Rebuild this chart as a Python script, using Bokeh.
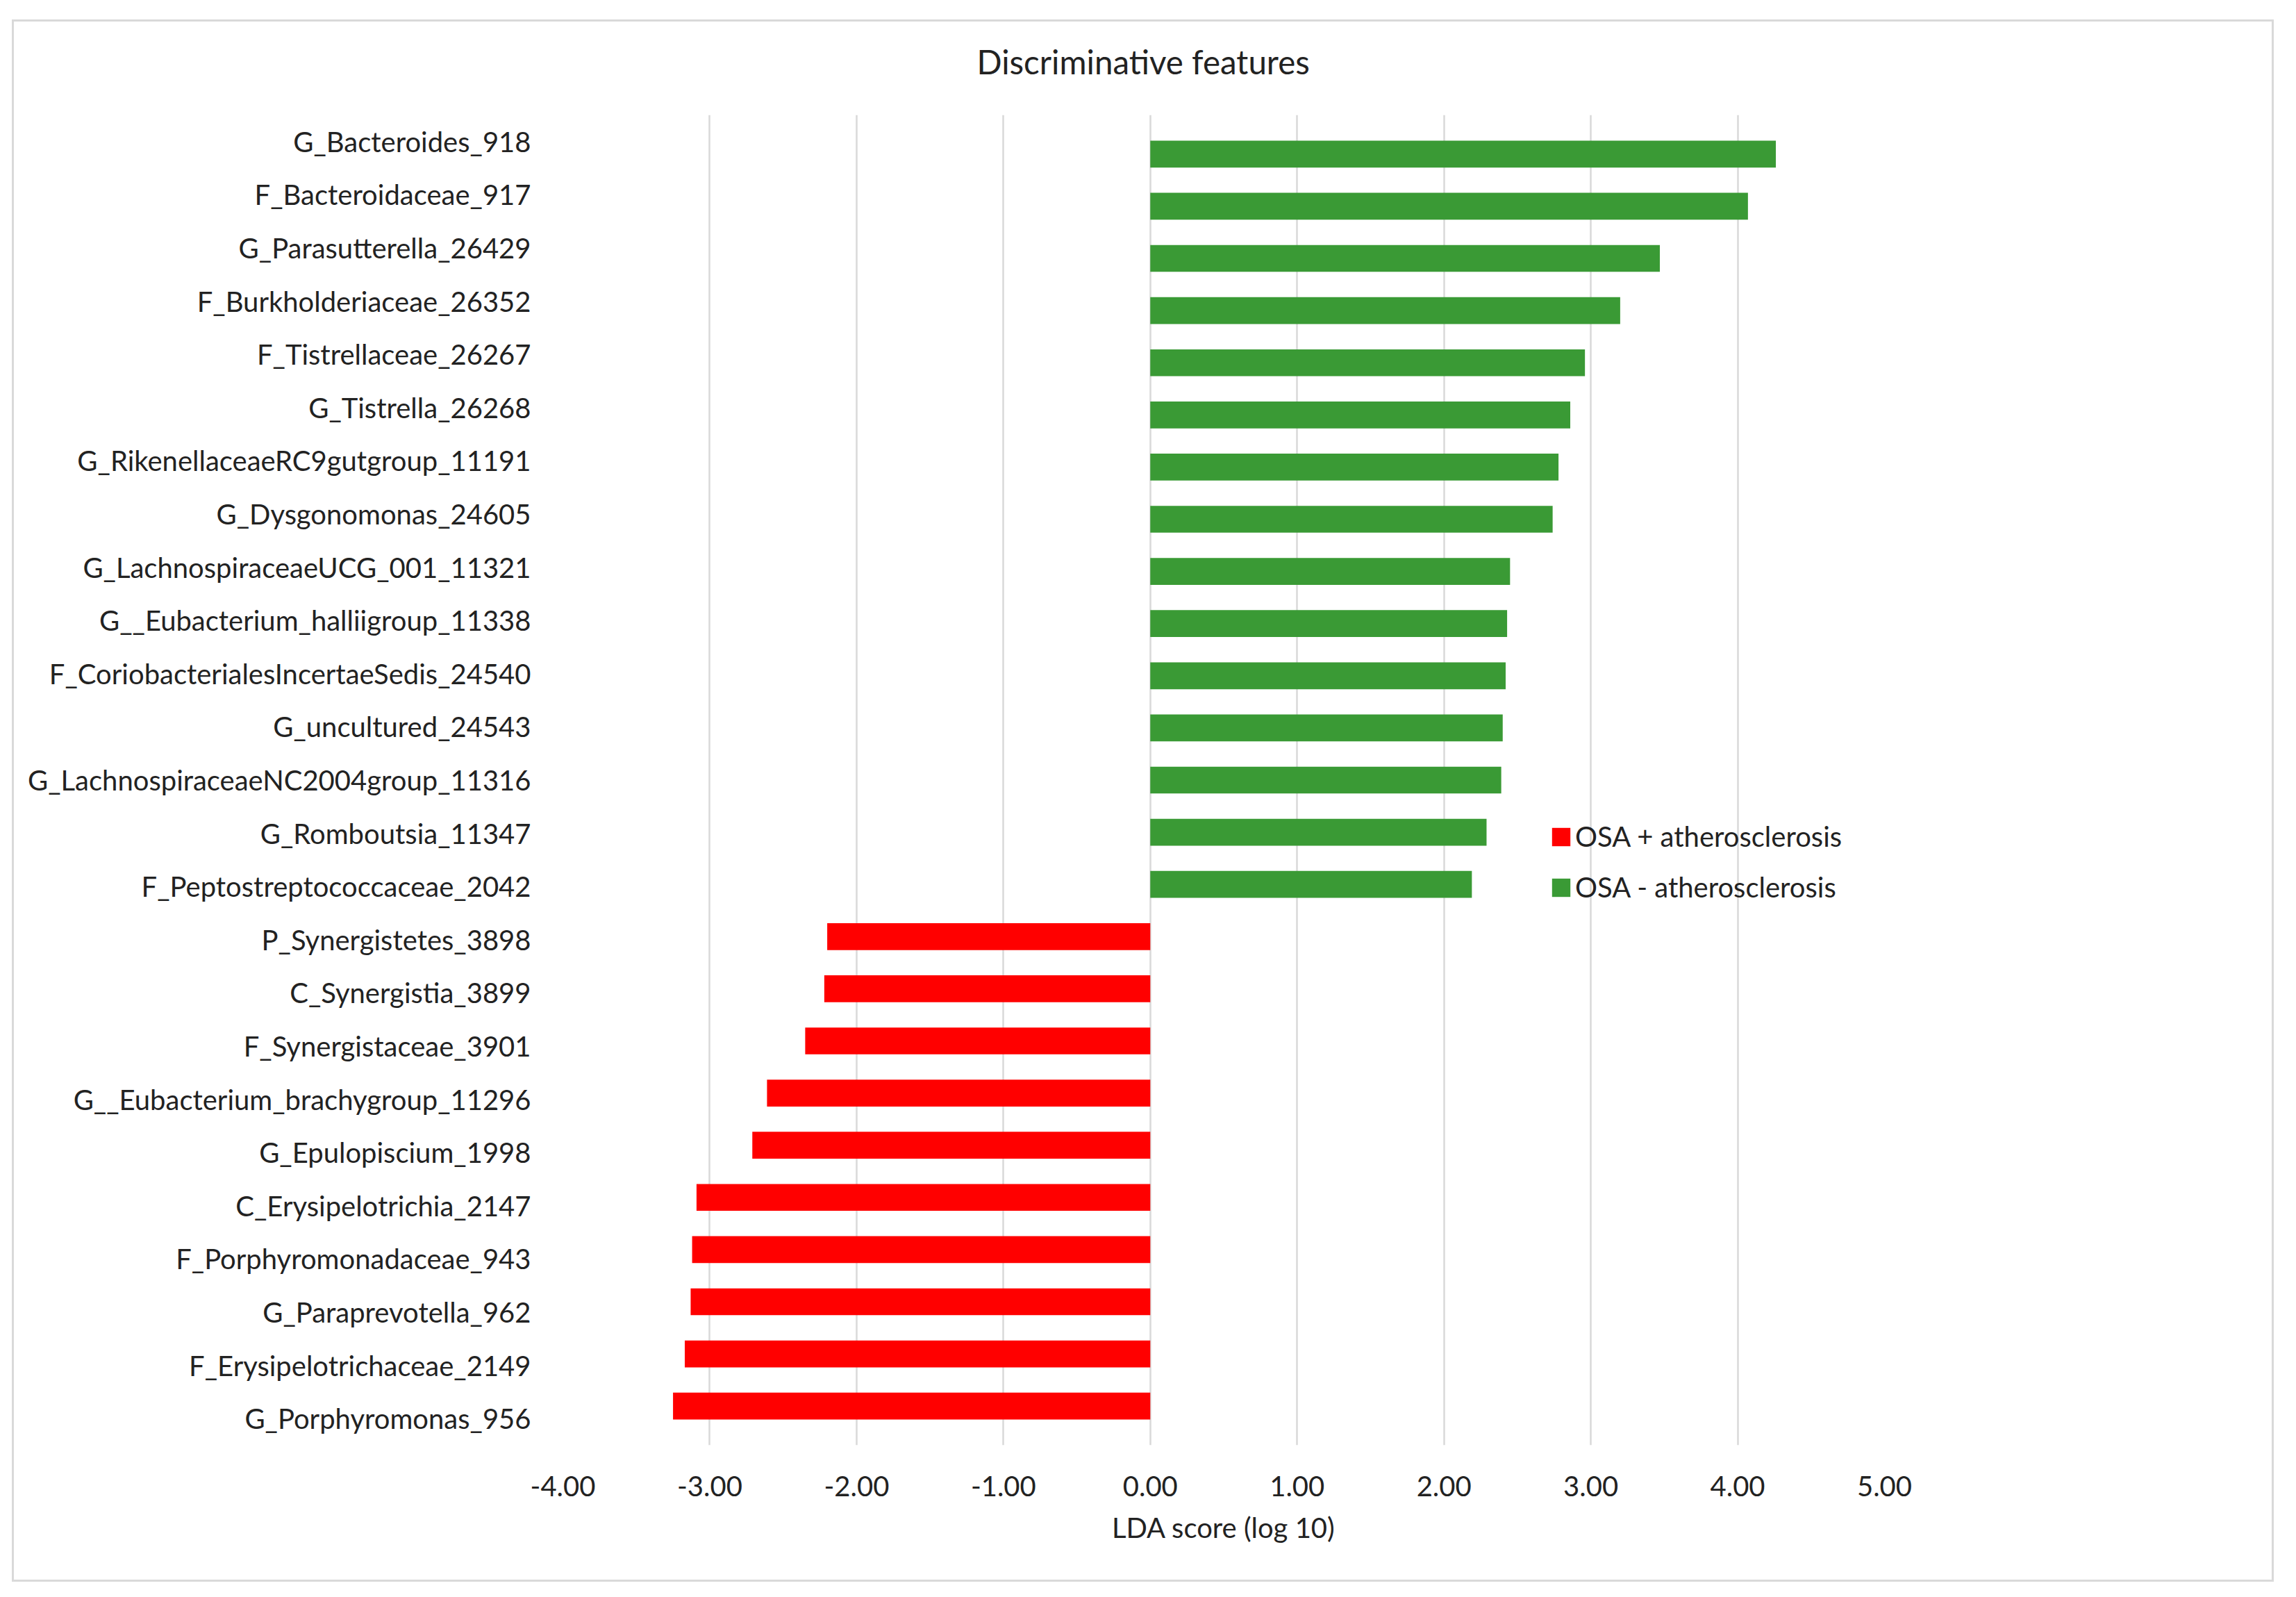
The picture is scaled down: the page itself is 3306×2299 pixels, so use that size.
from bokeh.plotting import figure
from bokeh.layouts import column
from bokeh.models import (ColumnDataSource, FactorRange, Range1d, FixedTicker,
                          NumeralTickFormatter, Legend, LegendItem, Title)
from bokeh.embed import file_html
from bokeh.resources import INLINE

# ---------------- data ----------------
features = [
    "G_Bacteroides_918",
    "F_Bacteroidaceae_917",
    "G_Parasutterella_26429",
    "F_Burkholderiaceae_26352",
    "F_Tistrellaceae_26267",
    "G_Tistrella_26268",
    "G_RikenellaceaeRC9gutgroup_11191",
    "G_Dysgonomonas_24605",
    "G_LachnospiraceaeUCG_001_11321",
    "G__Eubacterium_halliigroup_11338",
    "F_CoriobacterialesIncertaeSedis_24540",
    "G_uncultured_24543",
    "G_LachnospiraceaeNC2004group_11316",
    "G_Romboutsia_11347",
    "F_Peptostreptococcaceae_2042",
    "P_Synergistetes_3898",
    "C_Synergistia_3899",
    "F_Synergistaceae_3901",
    "G__Eubacterium_brachygroup_11296",
    "G_Epulopiscium_1998",
    "C_Erysipelotrichia_2147",
    "F_Porphyromonadaceae_943",
    "G_Paraprevotella_962",
    "F_Erysipelotrichaceae_2149",
    "G_Porphyromonas_956",
]
lda_scores = [
    4.26, 4.07, 3.47, 3.20, 2.96, 2.86, 2.78, 2.74, 2.45, 2.43, 2.42, 2.40,
    2.39, 2.29, 2.19,
    -2.20, -2.22, -2.35, -2.61, -2.71, -3.09, -3.12, -3.13, -3.17, -3.25,
]
x_ticks = [-4, -3, -2, -1, 0, 1, 2, 3, 4, 5]

title_text = "Discriminative features"
x_axis_title = "LDA score (log 10)"
group_pos = "OSA - atherosclerosis"
group_neg = "OSA + atherosclerosis"

GREEN = "#3a9a35"
RED = "#ff0000"
GRID = "#d9d9d9"
TEXT = "#222222"
FONT = "Lato"

pos_idx = [i for i, v in enumerate(lda_scores) if v >= 0]
neg_idx = [i for i, v in enumerate(lda_scores) if v < 0]
src_pos = ColumnDataSource(dict(feature=[features[i] for i in pos_idx],
                                score=[lda_scores[i] for i in pos_idx]))
src_neg = ColumnDataSource(dict(feature=[features[i] for i in neg_idx],
                                score=[lda_scores[i] for i in neg_idx]))

factors = features[::-1]

p = figure(
    width=3251, height=2243,
    x_range=Range1d(-4, 5),
    y_range=FactorRange(factors=factors, range_padding=0),
    output_backend="svg", toolbar_location=None,
    min_border_left=790, min_border_right=558,
    min_border_top=132, min_border_bottom=194,
)
p.extra_y_ranges = {"bars": FactorRange(factors=factors, range_padding=0.02,
                                        range_padding_units="percent")}

r_pos = p.hbar(y="feature", left=0, right="score", height=0.515, source=src_pos,
               y_range_name="bars", fill_color=GREEN, line_color=None)
r_neg = p.hbar(y="feature", left=0, right="score", height=0.515, source=src_neg,
               y_range_name="bars", fill_color=RED, line_color=None)

p.outline_line_color = None
p.background_fill_color = "white"
p.border_fill_color = "white"

# x axis
p.xaxis.ticker = FixedTicker(ticks=x_ticks)
p.xaxis.formatter = NumeralTickFormatter(format="0.00")
p.xaxis.axis_line_color = None
p.xaxis.major_tick_line_color = None
p.xaxis.minor_tick_line_color = None
p.xaxis.major_label_standoff = 38
p.xaxis.major_label_text_font = FONT
p.xaxis.major_label_text_font_size = "40px"
p.xaxis.major_label_text_color = TEXT
p.xaxis.axis_label = x_axis_title
p.xaxis.axis_label_standoff = 18
p.xaxis.axis_label_text_font = FONT
p.xaxis.axis_label_text_font_size = "40px"
p.xaxis.axis_label_text_font_style = "normal"
p.xaxis.axis_label_text_color = TEXT

# y axis
p.yaxis.axis_line_color = None
p.yaxis.major_tick_line_color = None
p.yaxis.minor_tick_line_color = None
p.yaxis.major_label_standoff = 40
p.yaxis.major_label_text_font = FONT
p.yaxis.major_label_text_font_size = "40px"
p.yaxis.major_label_text_color = TEXT

# grid
p.xgrid.ticker = FixedTicker(ticks=x_ticks)
p.xgrid.grid_line_color = GRID
p.xgrid.grid_line_width = 2.5
p.ygrid.grid_line_color = None

# legend
legend = Legend(
    items=[LegendItem(label=group_neg, renderers=[r_neg]),
           LegendItem(label=group_pos, renderers=[r_pos])],
    location=(1421, 779),
    orientation="vertical",
    border_line_color=None, background_fill_alpha=0,
    padding=0, margin=0, spacing=25,
    glyph_width=33, glyph_height=33, label_standoff=4,
    label_text_font=FONT, label_text_font_size="40px", label_text_color=TEXT,
)
p.add_layout(legend)

# invisible spacer between frame and title (keeps the title higher)
p.add_layout(Title(text=" ", text_font_size="2px", standoff=19,
                   text_color="white"), "above")

# title (outermost above panel)
p.title = Title(text=title_text, align="left", offset=596, standoff=52,
                vertical_align="bottom", text_font=FONT, text_font_size="47.5px",
                text_font_style="normal", text_color=TEXT)

layout = column(p, styles={"border": "3px solid #d9d9d9",
                           "margin-left": "17px", "margin-top": "28px"})

open("out.html", "w").write(file_html(layout, INLINE))
